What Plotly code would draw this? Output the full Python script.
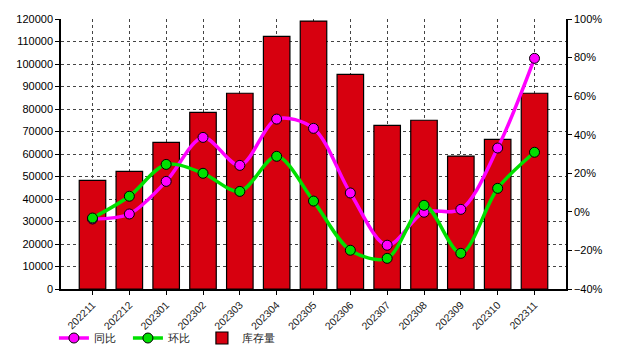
import plotly.graph_objects as go

months = ["202211", "202212", "202301", "202302", "202303", "202304", "202305",
          "202306", "202307", "202308", "202309", "202310", "202311"]
inventory = [48300, 52300, 65200, 78500, 87000, 112300, 119100,
             95400, 72700, 75000, 59100, 66500, 87000]
yoy = [-3.7, -1.1, 15.8, 38.6, 24.1, 48.1, 43.3, 9.8, -17.3, -0.2, 1.3, 33.1, 79.6]
mom = [-3.2, 8.1, 24.6, 20.0, 10.6, 28.8, 5.6, -19.9, -24.1, 3.4, -21.5, 12.2, 30.9]

FONT = "Liberation Sans, Arial, sans-serif"

fig = go.Figure()
fig.add_trace(go.Bar(
    x=months, y=inventory, name="库存量", yaxis="y",
    marker=dict(color="#d7000f", line=dict(color="#000000", width=1.2)),
    width=0.72, legendrank=3,
))
fig.add_trace(go.Scatter(
    x=months, y=yoy, name="同比", yaxis="y2", mode="lines+markers",
    line=dict(color="#ff00ff", width=3.5, shape="spline", smoothing=0.9),
    marker=dict(color="#ff00ff", size=10, line=dict(color="#000000", width=1)),
    legendrank=1,
))
fig.add_trace(go.Scatter(
    x=months, y=mom, name="环比", yaxis="y2", mode="lines+markers",
    line=dict(color="#00e000", width=3.5, shape="spline", smoothing=0.9),
    marker=dict(color="#00e000", size=10, line=dict(color="#000000", width=1)),
    legendrank=2,
))

fig.update_layout(
    width=618, height=351,
    margin=dict(l=61, r=52, t=19, b=62, autoexpand=False),
    paper_bgcolor="white", plot_bgcolor="white",
    font=dict(family=FONT, size=11, color="#000000"),
    showlegend=True,
    legend=dict(orientation="h", x=-0.014, xanchor="left",
                yref="container", y=0.037, yanchor="middle",
                traceorder="normal", font=dict(size=11, color="#222222"),
                entrywidth=29, entrywidthmode="pixels", itemwidth=30,
                bgcolor="rgba(0,0,0,0)"),
    xaxis=dict(
        type="category", tickangle=-45,
        showline=True, linecolor="#000000", linewidth=1.5,
        ticks="outside", ticklen=4, tickcolor="#000000",
        showgrid=True, gridcolor="#444444", griddash="dot", gridwidth=1,
        tickfont=dict(size=10.5, color="#222222"),
    ),
    yaxis=dict(
        range=[0, 120000], dtick=10000,
        showline=True, linecolor="#000000", linewidth=1.5,
        ticks="outside", ticklen=4, tickcolor="#000000",
        showgrid=True, gridcolor="#444444", griddash="dot", gridwidth=1,
        zeroline=False, tickformat="d",
    ),
    yaxis2=dict(
        range=[-40, 100], dtick=20, overlaying="y", side="right",
        showline=True, linecolor="#000000", linewidth=1.5,
        ticks="outside", ticklen=4, tickcolor="#000000",
        showgrid=False, zeroline=False, ticksuffix="%",
    ),
)

fig.write_html("out.html")
